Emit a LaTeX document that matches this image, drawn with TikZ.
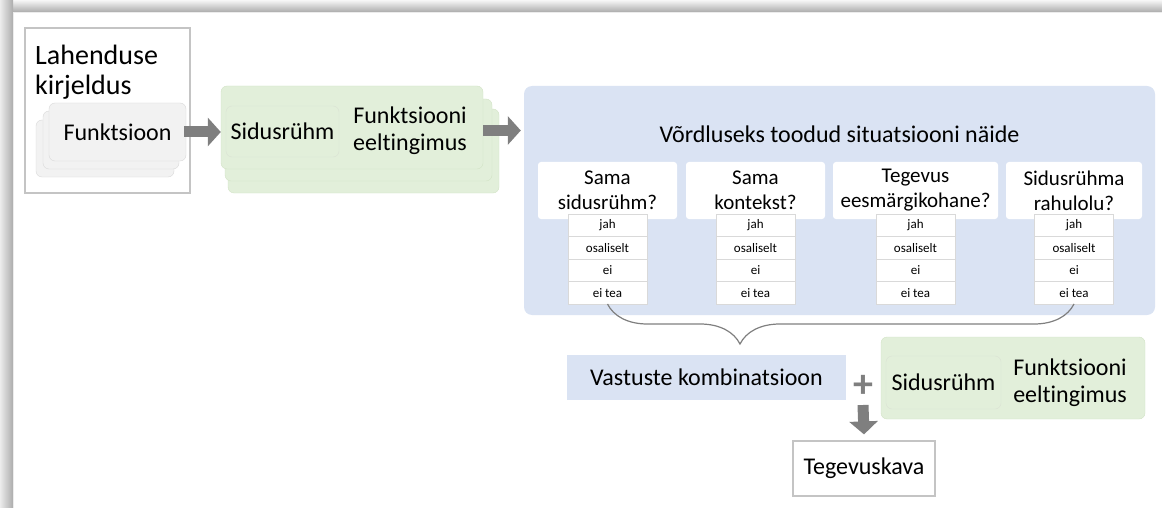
\documentclass[tikz,border=0pt]{standalone}
\usepackage{fontspec}
\setmainfont{Carlito}[Ligatures=NoCommon]
\usetikzlibrary{positioning,arrows.meta,decorations.pathreplacing}

\definecolor{cardgray}{HTML}{F2F2F2}
\definecolor{cardline}{HTML}{D9D9D9}
\definecolor{boxline}{HTML}{C4C4C4}
\definecolor{arrowgray}{HTML}{7F7F7F}
\definecolor{stakegreen}{HTML}{E2EFDA}
\definecolor{stakeline}{HTML}{D2E3C6}
\definecolor{situblue}{HTML}{DAE3F3}

\tikzset{
  plainbox/.style={rectangle, draw=boxline, line width=1.2pt, fill=white, inner sep=0pt},
  graycard/.style={rectangle, rounded corners=6pt, draw=cardline, fill=cardgray, inner sep=0pt},
  greencard/.style={rectangle, rounded corners=6pt, draw=stakeline, fill=stakegreen, inner sep=0pt},
  question/.style={rectangle, rounded corners=3pt, fill=white, align=center, inner sep=0pt,
    minimum height=57pt, font=\fontsize{21}{25}\selectfont},
  answer/.style={rectangle, draw=cardline, fill=white, minimum width=79pt, minimum height=22.5pt,
    inner sep=0pt, outer sep=0pt, font=\fontsize{13}{15}\selectfont},
  blockarrow/.style={draw=arrowgray, line width=11pt, -{Triangle[length=13pt, width=28pt]}},
}

\begin{document}
\begin{tikzpicture}[x=1pt, y=-1pt, font=\fontsize{24}{27}\selectfont]
\useasboundingbox (0,0) rectangle (1162,508);

% page edge shadow
\shade[top color=gray!6, bottom color=gray!65] (0,0) rectangle (1162,12);
\shade[left color=gray!15, right color=gray!65] (0,0) rectangle (13,508);
\draw[gray!15] (13,508) -- (13,12.5) -- (1162,12.5);

% solution description
\node[plainbox, minimum width=165pt, minimum height=165pt] (lahendus) at (107.5,110.5) {};
\node[anchor=north west, align=left, inner sep=0pt, font=\fontsize{28}{30}\selectfont] (lahtitle) at (35,45) {Lahenduse\\kirjeldus};
\node[graycard, minimum width=138pt, minimum height=57pt] (fback) at (105,148.5) {};
\node[graycard, minimum width=136pt, minimum height=58pt] (fmid) at (111,140) {};
\node[graycard, minimum width=137pt, minimum height=58pt] (funktsioon) at (117.5,132) {Funktsioon};

% stakeholder + precondition stack
\node[greencard, minimum width=271pt, minimum height=84pt] (gback) at (363.5,151) {};
\node[greencard, minimum width=267pt, minimum height=82pt] (gmid) at (358.5,140) {};
\node[greencard, minimum width=262pt, minimum height=83pt] (gfront) at (352,127.5) {};
\node[greencard, draw=stakeline!80!gray!60, minimum width=113pt, minimum height=51pt] (sidus) at (282.5,131.5) {Sidusrühm};
\node[align=center, inner sep=0pt] (eeltingimus) at (410,131) {Funktsiooni\\eeltingimus};

% comparison example
\node[rectangle, rounded corners=8pt, fill=situblue, minimum width=631pt, minimum height=229pt] (situatsioon) at (839.5,200.5) {};
\node[inner sep=0pt] (sittitle) at (839.5,134) {Võrdluseks toodud situatsiooni näide};

\foreach \n/\x/\w/\q in {1/607.5/139/{Sama\\sidusrühm?}, 2/755.5/139/{Sama\\kontekst?},
    3/915.5/165/{Tegevus\\eesmärgikohane?}, 4/1074/136/{Sidusrühma\\rahulolu?}}{
  \node[question, minimum width=\w pt] (q\n) at (\x,190.5) {\q};
  \node[answer, anchor=north] (a\n1) at (\x,214) {jah};
  \node[answer, below=0pt of a\n1] (a\n2) {osaliselt};
  \node[answer, below=0pt of a\n2] (a\n3) {ei};
  \node[answer, below=0pt of a\n3] (a\n4) {ei tea};
}

\draw[arrowgray, line width=1.2pt, decorate,
  decoration={brace, mirror, amplitude=40pt, aspect=0.284}] (a14.south) -- (a44.south);

% result
\node[rectangle, fill=situblue, minimum width=279pt, minimum height=45pt] (kombinatsioon) at (706.5,377.5) {Vastuste kombinatsioon};
\node[text=arrowgray, font=\fontsize{40}{40}\bfseries, inner sep=0pt] (plus) at (863,386) {+};
\node[greencard, minimum width=264pt, minimum height=82pt] (gbottom) at (1013,378) {};
\node[greencard, draw=stakeline!80!gray!60, minimum width=115pt, minimum height=53pt] (sidus2) at (943.5,382.5) {Sidusrühm};
\node[align=center, inner sep=0pt] (eeltingimus2) at (1070,383) {Funktsiooni\\eeltingimus};
\node[plainbox, minimum width=142pt, minimum height=55pt] (tegevuskava) at (864,468.5) {Tegevuskava};

\draw[blockarrow] ([xshift=-2pt]funktsioon.east) -- (funktsioon.east -| gfront.west);
\draw[blockarrow, shorten >=3pt] ([yshift=-3pt]gfront.east) -- ([yshift=-3pt]gfront.east -| situatsioon.west);
\draw[blockarrow] ([yshift=-19pt]plus.center) -- ([yshift=6pt]tegevuskava.north);
\end{tikzpicture}
\end{document}
